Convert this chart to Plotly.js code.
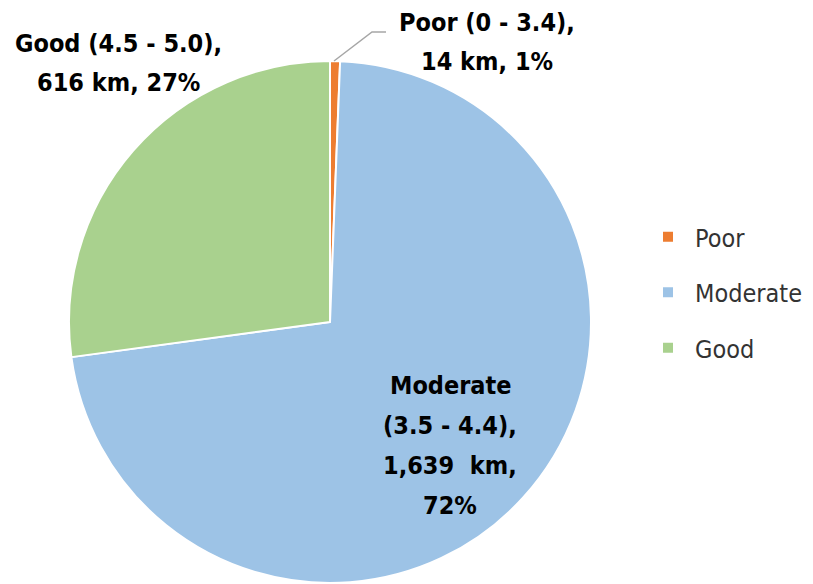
<!DOCTYPE html>
<html>
<head>
<meta charset="utf-8">
<script src="https://cdn.plot.ly/plotly-3.0.1.min.js"></script>
<style>html,body{margin:0;padding:0;background:#fff;}#chart{width:813px;height:584px;}</style>
</head>
<body>
<div id="chart"></div>
<script>
var categories = ["Poor", "Moderate", "Good"];
var ranges = ["0 - 3.4", "3.5 - 4.4", "4.5 - 5.0"];
var lengthsKm = [14, 1639, 616];
var percents = [1, 72, 27];
var colors = ["#ED7D31", "#9DC3E6", "#A9D18E"];
var labelLines = [
  ["Poor (0 - 3.4),", "14 km, 1%"],
  ["Moderate", "(3.5 - 4.4),", "1,639\u00a0 km,", "72%"],
  ["Good (4.5 - 5.0),", "616 km, 27%"]
];

var W = 813, H = 584;
function px(x){ return x / W; }
function py(y){ return 1 - y / H; }

var FONT = "'DejaVu Sans Condensed', 'Open Sans', sans-serif";

// label anchor (centre x, first line y) in pixels
var labelPos = [[487, 22], [450, 385], [118, 43]];
var lineGap = 40;

var annotations = [];
labelLines.forEach(function(lines, i){
  lines.forEach(function(t, j){
    annotations.push({
      xref: "paper", yref: "paper",
      x: px(labelPos[i][0]), y: py(labelPos[i][1] + j * lineGap),
      xanchor: "center", yanchor: "middle",
      text: "<b>" + t + "</b>", showarrow: false,
      font: {family: FONT, size: 25, color: "#000"}
    });
  });
});

var pie = {
  type: "pie",
  labels: categories,
  values: lengthsKm,
  sort: false,
  direction: "clockwise",
  rotation: 0,
  textinfo: "none",
  hoverinfo: "label+value+percent",
  marker: {colors: colors, line: {color: "#ffffff", width: 2}},
  domain: {x: [px(69), px(591)], y: [py(583), py(61)]},
  showlegend: false
};

var legendTraces = categories.map(function(c, i){
  return {
    type: "scatter", mode: "markers",
    x: [null], y: [null],
    name: c, legendgroup: c,
    marker: {symbol: "square", size: 10, color: colors[i]},
    hoverinfo: "skip"
  };
});

var layout = {
  width: W, height: H,
  margin: {l: 0, r: 0, t: 0, b: 0},
  paper_bgcolor: "#ffffff",
  plot_bgcolor: "rgba(0,0,0,0)",
  xaxis: {visible: false},
  yaxis: {visible: false},
  showlegend: true,
  legend: {
    x: px(641), y: py(214), xanchor: "left", yanchor: "top",
    font: {family: FONT, size: 25, color: "#333333"},
    tracegroupgap: 20,
    itemwidth: 44,
    bgcolor: "rgba(0,0,0,0)"
  },
  annotations: annotations,
  shapes: [{
    type: "path", xref: "paper", yref: "paper",
    path: "M " + px(334) + " " + py(61) + " L " + px(372) + " " + py(32) + " L " + px(386) + " " + py(32),
    line: {color: "#A6A6A6", width: 1.5}
  }]
};

Plotly.newPlot("chart", [pie].concat(legendTraces), layout, {displayModeBar: false, staticPlot: true});
</script>
</body>
</html>
